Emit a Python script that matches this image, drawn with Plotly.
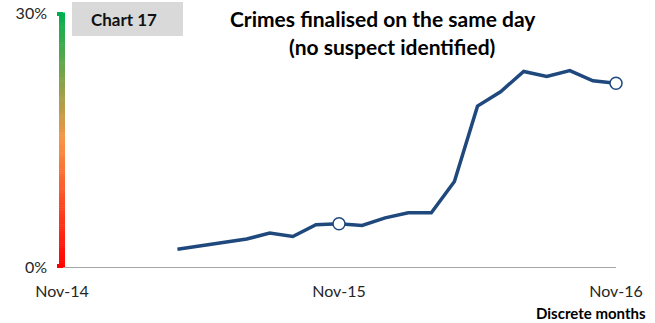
import plotly.graph_objects as go

# Monthly axis categories, Nov-14 to Nov-16
months = ["Nov-14", "Dec-14", "Jan-15", "Feb-15", "Mar-15", "Apr-15", "May-15",
          "Jun-15", "Jul-15", "Aug-15", "Sep-15", "Oct-15", "Nov-15", "Dec-15",
          "Jan-16", "Feb-16", "Mar-16", "Apr-16", "May-16", "Jun-16", "Jul-16",
          "Aug-16", "Sep-16", "Oct-16", "Nov-16"]

# Share of crimes finalised on the same day (no suspect identified), %
data_months = months[5:]
share_pct = [2.1, 2.5, 2.9, 3.3, 4.0, 3.6, 5.0, 5.1, 4.9, 5.8, 6.4, 6.4,
             10.1, 19.0, 20.7, 23.1, 22.5, 23.2, 22.0, 21.7]

# Highlighted months (open circle markers)
marked_months = ["Nov-15", "Nov-16"]

x_tick_labels = ["Nov-14", "Nov-15", "Nov-16"]
y_tick_vals = [0, 30]
y_tick_labels = ["0%", "30%"]

W, H = 655, 323
L, R, T, B = 62, 39, 13, 56
PW, PH = W - L - R, H - T - B


def px_x(px):
    return (px - L) / PW


def px_y(py):
    return (H - B - py) / PH


FONT = "Lato"
LINE_BLUE = "#1F497D"

fig = go.Figure()
fig.add_trace(go.Scatter(
    x=data_months, y=share_pct, mode="lines", cliponaxis=False,
    line=dict(color=LINE_BLUE, width=3.5), hoverinfo="x+y", showlegend=False,
))
marked_vals = [share_pct[data_months.index(m)] for m in marked_months]
fig.add_trace(go.Scatter(
    x=marked_months, y=marked_vals, mode="markers", cliponaxis=False,
    marker=dict(size=12, color="white", line=dict(color=LINE_BLUE, width=1.5)),
    showlegend=False,
))

# Gradient y-axis bar: green at the top, orange in the middle, red at the bottom
stops = [(0.0, (255, 0, 0)), (0.5, (247, 150, 70)), (1.0, (0, 176, 80))]


def grad_color(t):
    for (t0, c0), (t1, c1) in zip(stops[:-1], stops[1:]):
        if t0 <= t <= t1:
            f = (t - t0) / (t1 - t0)
            return "rgb(%d,%d,%d)" % tuple(round(a + (b - a) * f) for a, b in zip(c0, c1))
    return "rgb(%d,%d,%d)" % stops[-1][1]


shapes = []
n = 120
for i in range(n):
    y0 = px_y(267) + (px_y(13) - px_y(267)) * i / n
    y1 = px_y(267) + (px_y(13) - px_y(267)) * (i + 1) / n
    shapes.append(dict(type="rect", xref="paper", yref="paper",
                       x0=px_x(59), x1=px_x(65), y0=y0, y1=y1 + 0.002,
                       fillcolor=grad_color((i + 0.5) / n), line=dict(width=0),
                       layer="above"))
# small end ticks
shapes.append(dict(type="rect", xref="paper", yref="paper",
                   x0=px_x(57), x1=px_x(63), y0=px_y(16), y1=px_y(12),
                   fillcolor="rgb(0,176,80)", line=dict(width=0)))
shapes.append(dict(type="rect", xref="paper", yref="paper",
                   x0=px_x(57), x1=px_x(63), y0=px_y(268), y1=px_y(264),
                   fillcolor="rgb(255,0,0)", line=dict(width=0)))
# "Chart 17" label box
shapes.append(dict(type="rect", xref="paper", yref="paper",
                   x0=px_x(72), x1=px_x(183), y0=px_y(36), y1=px_y(2),
                   fillcolor="#D9D9D9", line=dict(width=0), layer="below"))

annotations = [
    dict(text="<b>Chart 17</b>", xref="paper", yref="paper",
         x=px_x(89), y=px_y(20), xanchor="left", yanchor="middle",
         showarrow=False, font=dict(family=FONT, size=17, color="#111111")),
    dict(text="<b>Crimes finalised on the same day</b>", xref="paper", yref="paper",
         x=px_x(383), y=px_y(19), xanchor="center", yanchor="middle",
         showarrow=False, font=dict(family=FONT, size=21, color="#000000")),
    dict(text="<b>(no suspect identified)</b>", xref="paper", yref="paper",
         x=px_x(392), y=px_y(46), xanchor="center", yanchor="middle",
         showarrow=False, font=dict(family=FONT, size=21, color="#000000")),
    dict(text="<b>Discrete months</b>", xref="paper", yref="paper",
         x=px_x(648), y=px_y(313), xanchor="right", yanchor="middle",
         showarrow=False, font=dict(family=FONT, size=15, color="#000000")),
]

fig.update_layout(
    width=W, height=H,
    margin=dict(l=L, r=R, t=T, b=B, autoexpand=False),
    paper_bgcolor="white", plot_bgcolor="white",
    shapes=shapes, annotations=annotations,
    xaxis=dict(type="category", categoryorder="array", categoryarray=months,
               range=[0, len(months) - 1], tickvals=x_tick_labels,
               ticktext=x_tick_labels, showgrid=False, zeroline=False,
               showline=True, linecolor="#A6A6A6", linewidth=1, ticks="",
               ticklabelstandoff=10, automargin=False,
               tickfont=dict(family=FONT, size=16, color="#262626")),
    yaxis=dict(range=[0, 30], tickvals=y_tick_vals, ticktext=y_tick_labels,
               showgrid=False, zeroline=False, showline=False, ticks="",
               ticklabelstandoff=14, automargin=False,
               tickfont=dict(family=FONT, size=16, color="#262626")),
)

fig.write_html("out.html")
